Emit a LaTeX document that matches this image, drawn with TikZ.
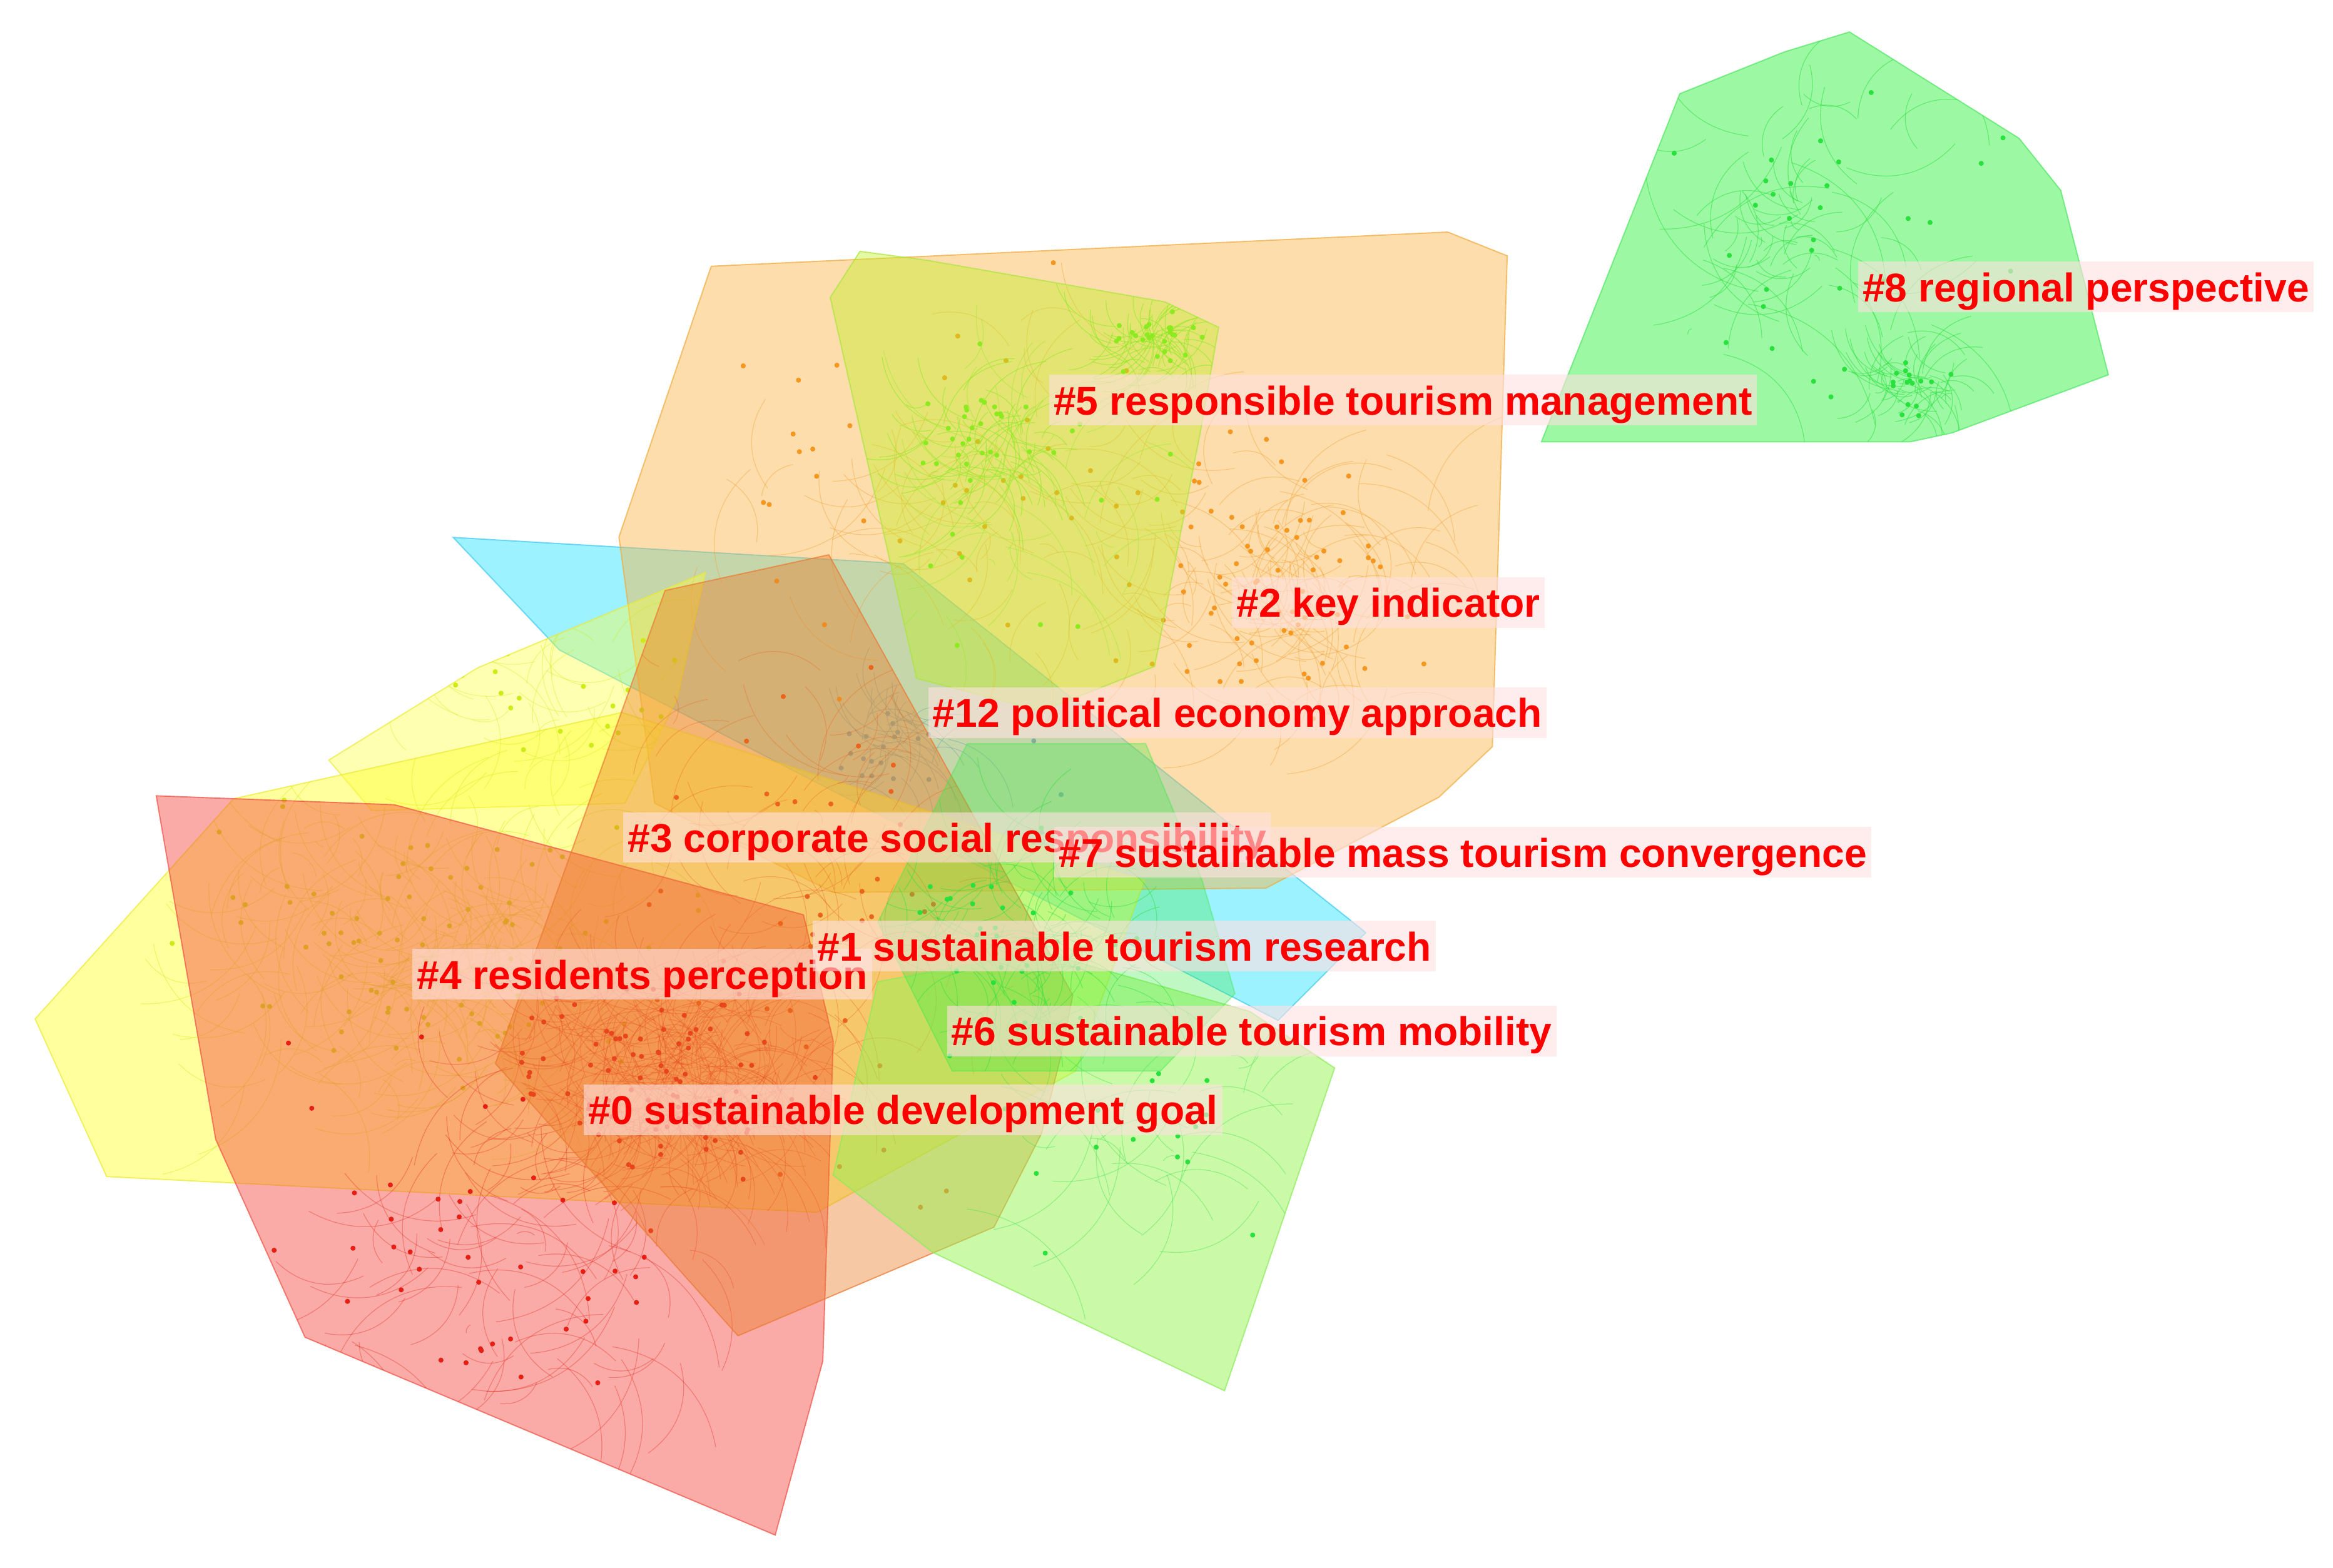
\documentclass[tikz,border=0pt]{standalone}
\usepackage{fontspec}
\newfontfamily\lblfamily{Liberation Sans}
\newcommand\lblfont{\lblfamily\bfseries\fontsize{27pt}{30pt}\selectfont}
\definecolor{fGreen}{RGB}{110,245,120}
\definecolor{dGreen}{RGB}{80,230,100}
\definecolor{fOrange}{RGB}{250,180,70}
\definecolor{dOrange}{RGB}{240,170,60}
\definecolor{fLime}{RGB}{190,240,30}
\definecolor{dLime}{RGB}{170,230,60}
\definecolor{fCyan}{RGB}{60,230,255}
\definecolor{dCyan}{RGB}{60,200,240}
\definecolor{fYellow}{RGB}{255,255,60}
\definecolor{dYellow}{RGB}{235,235,50}
\definecolor{fRed}{RGB}{245,70,60}
\definecolor{dRed}{RGB}{240,80,70}
\definecolor{fDark}{RGB}{235,125,40}
\definecolor{dDark}{RGB}{235,120,50}
\definecolor{fLgreen}{RGB}{150,245,80}
\definecolor{dLgreen}{RGB}{140,235,90}
\definecolor{fBgreen}{RGB}{60,235,70}
\definecolor{nRed}{RGB}{230,30,20}
\definecolor{nYel}{RGB}{205,235,20}
\definecolor{nOr}{RGB}{245,150,30}
\definecolor{nLime}{RGB}{140,235,30}
\definecolor{nCyan}{RGB}{30,170,235}
\definecolor{nGreen}{RGB}{40,225,60}
\definecolor{nDark}{RGB}{235,100,30}
\definecolor{lblpink}{RGB}{255,225,225}
\newcommand\polyG[1]{\path[#1] (1036,297) -- (1129,63) -- (1199,35) -- (1243,21.5) -- (1357,93) -- (1385,128) -- (1417,252) -- (1312,291) -- (1284,297) -- cycle;}
\newcommand\polyO[1]{\path[#1] (478,179) -- (973,156) -- (1013,172) -- (1003,502) -- (967,536) -- (851,597) -- (560,600) -- (440,540) -- (416,361) -- cycle;}
\newcommand\polyL[1]{\path[#1] (558,200) -- (578,169) -- (623,175) -- (783,203) -- (819,220) -- (807,289) -- (776,448) -- (700,478) -- (616,456) -- cycle;}
\newcommand\polyC[1]{\path[#1] (304.6,361.3) -- (607,379) -- (918,627) -- (859,686) -- (376,437) -- cycle;}
\newcommand\polyYb[1]{\path[#1] (221,511) -- (321,449) -- (474,385) -- (455,470) -- (420,540) -- (250,545) -- cycle;}
\newcommand\polyYa[1]{\path[#1] (23.6,685) -- (157,537) -- (418,479) -- (769,592) -- (723,720) -- (549,815) -- (71.7,791) -- cycle;}
\newcommand\polyR[1]{\path[#1] (105,535) -- (265,541) -- (540,615) -- (560,700) -- (553,915) -- (521,1032) -- (205,899) -- (145,766) -- cycle;}
\newcommand\polyD[1]{\path[#1] (447,397) -- (557,373) -- (721,669) -- (713,710) -- (700,762) -- (668,825) -- (496,898) -- (333,715) -- cycle;}
\newcommand\polyLG[1]{\path[#1] (897,718) -- (823,935) -- (627,842) -- (560,790) -- (590,660) -- (700,640) -- (840,680) -- cycle;}
\newcommand\polyBG[1]{\path[#1] (650,500) -- (770,500) -- (808,592) -- (830,668) -- (780,720) -- (640,720) -- (590,620) -- cycle;}
% random dots: count cx cy rx ry colour
\newcommand\spr[6]{%
  \foreach \k in {1,...,#1}{%
    \pgfmathsetmacro\rA{#2+#4*(rnd+rnd-1)}%
    \pgfmathsetmacro\rB{#3+#5*(rnd+rnd-1)}%
    \fill[#6] (\rA,\rB) circle (1.7pt);}}
% random arcs: count cx cy rx ry len style
\newcommand\lnk[7]{%
  \foreach \k in {1,...,#1}{%
    \pgfmathsetmacro\rA{#2+#4*(rnd+rnd-1)}%
    \pgfmathsetmacro\rB{#3+#5*(rnd+rnd-1)}%
    \pgfmathsetmacro\rC{\rA+#6*(2*rnd-1)}%
    \pgfmathsetmacro\rD{\rB+#6*(2*rnd-1)}%
    \draw[#7] (\rA,\rB) to[bend left=35] (\rC,\rD);}}
\tikzset{
  poly/.style={line width=0.8pt, draw opacity=0.7},
  arc/.style={line width=0.5pt, opacity=0.35},
  lblbox/.style={anchor=base west, inner xsep=3pt, inner ysep=0pt, text height=27pt, text depth=7pt, font=\lblfont, fill=lblpink, fill opacity=0.6, text=red, text opacity=1}
}
\newcommand\clab[4]{\node[lblbox] (#1) at (#2,#3) {#4};}
\begin{document}
\begin{tikzpicture}[x=1pt,y=-1pt]
\pgfmathsetseed{11}
\useasboundingbox (0,0) rectangle (1568,1054);
\fill[white] (0,0) rectangle (1568,1054);
% cluster 8
\polyG{poly, fill=fGreen, fill opacity=0.68, draw=dGreen}
\begin{scope}\polyG{clip}
  \lnk{45}{1225}{170}{170}{130}{90}{nGreen, arc, opacity=0.5}
  \lnk{55}{1285}{262}{32}{26}{40}{nGreen, arc, opacity=0.5}
  \lnk{30}{1200}{160}{40}{40}{40}{nGreen, arc, opacity=0.5}
  \spr{30}{1225}{170}{170}{130}{nGreen}
  \spr{16}{1285}{262}{30}{24}{nGreen}
\end{scope}
% cluster 12
\polyC{poly, fill=fCyan, fill opacity=0.5, draw=dCyan}
\begin{scope}\polyC{clip}
  \lnk{45}{600}{500}{40}{35}{50}{nCyan, arc, opacity=0.55}
  \spr{18}{600}{500}{40}{35}{nCyan}
  \spr{6}{700}{540}{200}{80}{nCyan}
\end{scope}
% cluster 2
\polyO{poly, fill=fOrange, fill opacity=0.45, draw=dOrange}
\begin{scope}\polyO{clip}
  \lnk{130}{860}{390}{110}{100}{70}{nOr, arc}
  \lnk{70}{650}{340}{200}{160}{80}{nOr, arc}
  \spr{70}{860}{390}{110}{100}{nOr}
  \spr{45}{650}{330}{200}{160}{nOr}
\end{scope}
% cluster 5
\polyL{poly, fill=fLime, fill opacity=0.4, draw=dLime}
\begin{scope}\polyL{clip}
  \lnk{70}{775}{232}{40}{25}{40}{nLime, arc, opacity=0.55}
  \lnk{70}{665}{300}{50}{45}{50}{nLime, arc, opacity=0.55}
  \lnk{40}{690}{330}{110}{130}{80}{nLime, arc}
  \spr{26}{775}{232}{40}{25}{nLime}
  \spr{26}{665}{300}{50}{45}{nLime}
  \spr{15}{690}{330}{110}{130}{nLime}
\end{scope}
% yellow clusters
\polyYb{poly, fill=fYellow, fill opacity=0.4, draw=dYellow}
\polyYa{poly, fill=fYellow, fill opacity=0.5, draw=dYellow}
\begin{scope}\polyYa{clip}
  \lnk{220}{300}{640}{180}{110}{80}{nYel, arc, opacity=0.4}
  \spr{90}{300}{640}{190}{120}{nYel}
\end{scope}
\begin{scope}\polyYb{clip}
  \lnk{35}{380}{480}{120}{60}{70}{nYel, arc}
  \spr{20}{380}{480}{120}{60}{nYel}
\end{scope}
% cluster 0
\polyR{poly, fill=fRed, fill opacity=0.45, draw=dRed}
\begin{scope}\polyR{clip}
  \lnk{320}{440}{720}{110}{80}{70}{nRed, arc, opacity=0.3}
  \lnk{90}{340}{850}{170}{120}{90}{nRed, arc}
  \spr{90}{440}{720}{110}{80}{nRed}
  \spr{50}{340}{830}{180}{160}{nRed}
\end{scope}
% cluster 3
\polyD{poly, fill=fDark, fill opacity=0.42, draw=dDark}
\begin{scope}\polyD{clip}
  \lnk{90}{540}{620}{120}{200}{80}{nDark, arc}
  \spr{50}{540}{620}{120}{220}{nDark}
\end{scope}
% cluster 6
\polyLG{poly, fill=fLgreen, fill opacity=0.5, draw=dLgreen}
\begin{scope}\polyLG{clip}
  \lnk{35}{760}{760}{120}{100}{90}{nGreen, arc}
  \spr{18}{760}{760}{130}{110}{nGreen}
\end{scope}
% clusters 1 / 7
\polyBG{poly, fill=fBgreen, fill opacity=0.32, draw=fBgreen, draw opacity=0.4}
\begin{scope}\polyBG{clip}
  \lnk{110}{690}{630}{100}{90}{60}{nGreen, arc, opacity=0.45}
  \spr{35}{690}{630}{100}{90}{nGreen}
\end{scope}
% labels
\clab{l8}{1248.6}{202.7}{\#8 regional perspective}
\clab{l5}{705}{279}{\#5 responsible tourism management}
\clab{l2}{827.8}{415}{\#2 key indicator}
\clab{l12}{623.6}{489}{\#12 political economy approach}
\clab{l3}{418.8}{573}{\#3 corporate social responsibility}
\clab{l7}{708.4}{583}{\#7 sustainable mass tourism convergence}
\clab{l4}{277}{665}{\#4 residents perception}
\clab{l1}{546.2}{646}{\#1 sustainable tourism research}
\clab{l6}{636.2}{703}{\#6 sustainable tourism mobility}
\clab{l0}{392.3}{756}{\#0 sustainable development goal}
\end{tikzpicture}
\end{document}
